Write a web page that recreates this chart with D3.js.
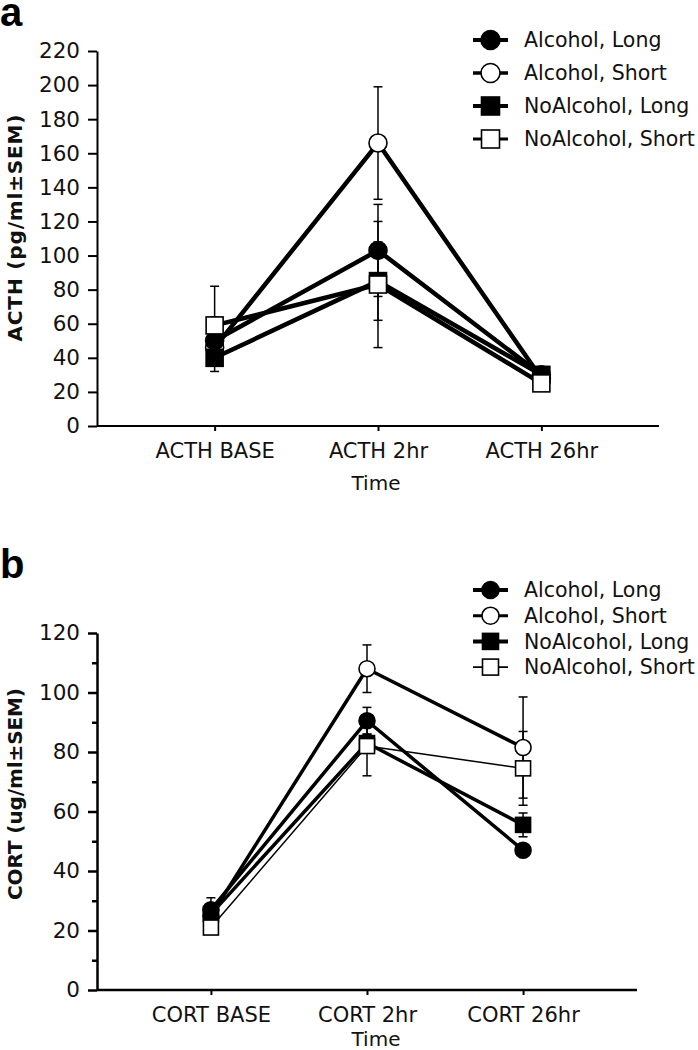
<!DOCTYPE html>
<html><head><meta charset="utf-8">
<script src="https://cdn.jsdelivr.net/npm/d3@7"></script>
<style>body{margin:0;background:#fff} svg{display:block}</style>
</head><body>
<svg id="c" width="698" height="1050"></svg>
<script>
// ---------- DATA ----------
const seriesNames = ["Alcohol, Long", "Alcohol, Short", "NoAlcohol, Long", "NoAlcohol, Short"];

const acthCategories = ["ACTH BASE", "ACTH 2hr", "ACTH 26hr"];
const acthTicks = [0, 20, 40, 60, 80, 100, 120, 140, 160, 180, 200, 220];
const acthAlcoholLong    = [50, 103, 30];
const acthAlcoholShort   = [46, 166, 28];
const acthNoAlcoholLong  = [40, 85, 30];
const acthNoAlcoholShort = [59, 83, 25];
const acthErrAlcoholLong    = [14, 27, 3];
const acthErrAlcoholShort   = [6, 33, 3];
const acthErrNoAlcoholLong  = [8, 23, 4];
const acthErrNoAlcoholShort = [23, 37, 3];

const cortCategories = ["CORT BASE", "CORT 2hr", "CORT 26hr"];
const cortTicks = [0, 20, 40, 60, 80, 100, 120];
const cortMinorTicks = [10, 30, 50, 70, 90, 110];
const cortAlcoholLong    = [27, 90.5, 47];
const cortAlcoholShort   = [25, 108, 81.5];
const cortNoAlcoholLong  = [25.5, 83, 55.5];
const cortNoAlcoholShort = [21, 82, 74.5];
const cortErrAlcoholLong    = [4, 4.5, 2];
const cortErrAlcoholShort   = [3, 8, 17];
const cortErrNoAlcoholLong  = [2, 3, 4];
const cortErrNoAlcoholShort = [2, 10, 12.4];

// ---------- DRAW ----------
const svg = d3.select("#c");
svg.append("rect").attr("width", 698).attr("height", 1050).attr("fill", "#fff");
const FONT = "'DejaVu Sans', Verdana, sans-serif";

const styles = [
  {shape: "circle", fill: "#000"},
  {shape: "circle", fill: "#fff"},
  {shape: "square", fill: "#000"},
  {shape: "square", fill: "#fff"}
];

function marker(g, shape, fill, cx, cy, r) {
  if (shape === "circle") {
    g.append("circle").attr("cx", cx).attr("cy", cy).attr("r", r)
      .attr("fill", fill).attr("stroke", "#000").attr("stroke-width", 1.6);
  } else {
    g.append("rect").attr("x", cx - r + 0.5).attr("y", cy - r + 0.5)
      .attr("width", 2 * r - 1).attr("height", 2 * r - 1)
      .attr("fill", fill).attr("stroke", "#000").attr("stroke-width", 1.6);
  }
}

function panel(cfg) {
  const g = svg.append("g");
  const x = d3.scalePoint().domain(cfg.cats).range([cfg.x0, cfg.x1]).padding(cfg.pad);
  const y = d3.scaleLinear().domain([0, cfg.ymax]).range([cfg.yb, cfg.yt]);

  // y axis
  const ya = g.append("g").attr("transform", `translate(${cfg.x0},0)`)
    .call(d3.axisLeft(y).tickValues(cfg.ticks).tickSize(9).tickPadding(8).tickSizeOuter(0));
  ya.select(".domain").attr("stroke-width", cfg.axw);
  ya.selectAll(".tick line").attr("stroke-width", cfg.axw);
  ya.selectAll("text").attr("font-family", FONT).attr("font-size", 21.5).attr("fill", "#111");
  if (cfg.minor) {
    const ym = g.append("g").attr("transform", `translate(${cfg.x0},0)`)
      .call(d3.axisLeft(y).tickValues(cfg.minor).tickSize(5).tickFormat(""));
    ym.select(".domain").remove();
    ym.selectAll(".tick line").attr("stroke-width", cfg.axw);
  }
  // x axis
  const xa = g.append("g").attr("transform", `translate(0,${cfg.yb})`)
    .call(d3.axisBottom(x).tickSize(5).tickPadding(cfg.xpad).tickSizeOuter(0));
  xa.select(".domain").attr("stroke-width", cfg.axw).attr("d", `M${cfg.x0},0H${cfg.x1}`);
  xa.selectAll(".tick line").attr("stroke-width", 2);
  xa.selectAll("text").attr("font-family", FONT).attr("font-size", 21).attr("fill", "#111");

  g.append("text").attr("x", 376).attr("y", cfg.timeY).attr("text-anchor", "middle")
    .attr("font-family", FONT).attr("font-size", 20).attr("fill", "#111").text("Time");

  g.append("text").attr("transform", `translate(22,${cfg.ylabCy}) rotate(-90)`)
    .attr("text-anchor", "middle").attr("font-family", FONT).attr("font-weight", "bold")
    .attr("font-size", 20).attr("textLength", cfg.ylabLen).attr("lengthAdjust", "spacing")
    .attr("fill", "#111").text(cfg.ylab);

  g.append("text").attr("x", 0).attr("y", cfg.letterY)
    .attr("font-family", "'Liberation Sans', Arial, sans-serif").attr("font-weight", "bold")
    .attr("font-size", 40).attr("fill", "#000").text(cfg.letter);

  // lines
  const line = d3.line().x((d, i) => x(cfg.cats[i])).y(d => y(d));
  cfg.series.forEach((s, k) => {
    g.append("path").attr("d", line(s.values)).attr("fill", "none")
      .attr("stroke", "#000").attr("stroke-width", cfg.lw[k]).attr("stroke-linejoin", "round");
  });
  // error bars
  cfg.series.forEach((s) => {
    s.values.forEach((v, i) => {
      const cx = x(cfg.cats[i]);
      const e = s.errs[i];
      g.append("line").attr("x1", cx).attr("x2", cx).attr("y1", y(v - e)).attr("y2", y(v + e))
        .attr("stroke", "#000").attr("stroke-width", 1.5);
      [v - e, v + e].forEach(t => {
        g.append("line").attr("x1", cx - 4.5).attr("x2", cx + 4.5).attr("y1", y(t)).attr("y2", y(t))
          .attr("stroke", "#000").attr("stroke-width", 1.5);
      });
    });
  });
  // markers (draw order: AS, AL, NL, NS)
  [1, 0, 2, 3].forEach(k => {
    const s = cfg.series[k];
    s.values.forEach((v, i) => marker(g, styles[k].shape, styles[k].fill, x(cfg.cats[i]), y(v), cfg.r));
  });

  // legend
  seriesNames.forEach((name, k) => {
    const ly = cfg.legY0 + k * cfg.legDy;
    g.append("line").attr("x1", 473).attr("x2", 508).attr("y1", ly).attr("y2", ly)
      .attr("stroke", "#000").attr("stroke-width", cfg.legLw[k]);
    marker(g, styles[k].shape, styles[k].fill, 490.5, ly, cfg.legR);
    g.append("text").attr("x", 524).attr("y", ly).attr("dy", "0.36em")
      .attr("font-family", FONT).attr("font-size", 20.5).attr("fill", "#111").text(name);
  });
}

panel({
  cats: acthCategories, ticks: acthTicks, minor: null, ymax: 220,
  x0: 97, x1: 659, pad: 0.72, yt: 51, yb: 426, axw: 2, xpad: 12,
  timeY: 490, ylab: "ACTH (pg/ml±SEM)", ylabCy: 228, ylabLen: 227,
  letter: "a", letterY: 26, r: 9,
  series: [
    {values: acthAlcoholLong, errs: acthErrAlcoholLong},
    {values: acthAlcoholShort, errs: acthErrAlcoholShort},
    {values: acthNoAlcoholLong, errs: acthErrNoAlcoholLong},
    {values: acthNoAlcoholShort, errs: acthErrNoAlcoholShort}
  ],
  lw: [4.5, 4.5, 4.5, 4.5], legLw: [4, 3.5, 4, 3], legY0: 40, legDy: 33, legR: 9.5
});

panel({
  cats: cortCategories, ticks: cortTicks, minor: cortMinorTicks, ymax: 120,
  x0: 97, x1: 637, pad: 0.73, yt: 633, yb: 990, axw: 2.5, xpad: 12,
  timeY: 1046, ylab: "CORT (ug/ml±SEM)", ylabCy: 794, ylabLen: 212,
  letter: "b", letterY: 578, r: 8,
  series: [
    {values: cortAlcoholLong, errs: cortErrAlcoholLong},
    {values: cortAlcoholShort, errs: cortErrAlcoholShort},
    {values: cortNoAlcoholLong, errs: cortErrNoAlcoholLong},
    {values: cortNoAlcoholShort, errs: cortErrNoAlcoholShort}
  ],
  lw: [3.5, 3.5, 3.5, 1.5], legLw: [4, 3, 4, 1.7], legY0: 590, legDy: 25.7, legR: 8.5
});
</script>
</body></html>
